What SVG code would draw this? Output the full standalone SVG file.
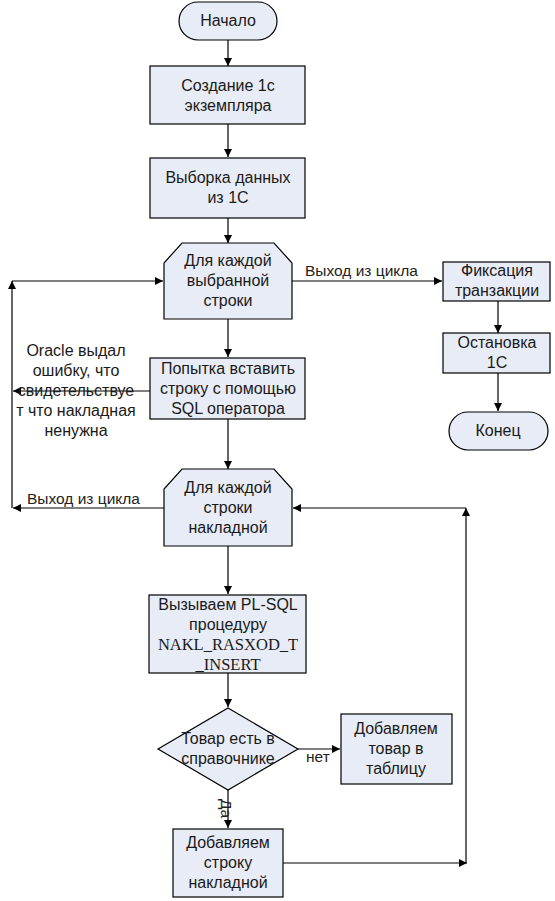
<svg xmlns="http://www.w3.org/2000/svg" width="555" height="901" viewBox="0 0 555 901">
<defs>
<marker id="ah" viewBox="0 0 10 10" refX="10" refY="5" markerWidth="8" markerHeight="8" markerUnits="userSpaceOnUse" orient="auto">
<path d="M0,0 L10,5 L0,10 z" fill="#000"/>
</marker>
<style>
.n{fill:#e8ecf6;stroke:#000;stroke-width:1.2}
.t{font-family:"Liberation Sans",Arial,sans-serif;font-size:16px;fill:#1a1a1a;text-anchor:middle}
.s{font-family:"Liberation Serif","Times New Roman",serif;font-size:16.5px;fill:#1a1a1a;text-anchor:middle}
.l{font-family:"Liberation Sans",Arial,sans-serif;font-size:15.5px;fill:#222}
.c{fill:none;stroke:#000;stroke-width:1.2}
</style>
</defs>
<rect width="555" height="901" fill="#fff"/>
<g id="connectors">
<line class="c" x1="228" y1="40" x2="228" y2="66" marker-end="url(#ah)"/>
<line class="c" x1="228" y1="124" x2="228" y2="157" marker-end="url(#ah)"/>
<line class="c" x1="228" y1="218" x2="228" y2="243" marker-end="url(#ah)"/>
<line class="c" x1="292" y1="281" x2="442" y2="281" marker-end="url(#ah)"/>
<line class="c" x1="498" y1="301" x2="498" y2="333" marker-end="url(#ah)"/>
<line class="c" x1="498" y1="373" x2="498" y2="411" marker-end="url(#ah)"/>
<line class="c" x1="228" y1="319" x2="228" y2="357" marker-end="url(#ah)"/>
<line class="c" x1="150" y1="391" x2="13" y2="391" marker-end="url(#ah)"/>
<line class="c" x1="228" y1="419" x2="228" y2="469" marker-end="url(#ah)"/>
<line class="c" x1="164" y1="508" x2="13" y2="508" marker-end="url(#ah)"/>
<line class="c" x1="12" y1="508" x2="12" y2="281" marker-end="url(#ah)"/>
<line class="c" x1="12" y1="281" x2="163" y2="281" marker-end="url(#ah)"/>
<line class="c" x1="228" y1="546" x2="228" y2="594" marker-end="url(#ah)"/>
<line class="c" x1="228" y1="673" x2="228" y2="707" marker-end="url(#ah)"/>
<line class="c" x1="298" y1="749" x2="340" y2="749" marker-end="url(#ah)"/>
<line class="c" x1="228" y1="790" x2="228" y2="828" marker-end="url(#ah)"/>
<line class="c" x1="283" y1="863" x2="467" y2="863" marker-end="url(#ah)"/>
<line class="c" x1="466" y1="863" x2="466" y2="508" marker-end="url(#ah)"/>
<line class="c" x1="466" y1="508" x2="293" y2="508" marker-end="url(#ah)"/>
<text class="l" x="305" y="276">Выход из цикла</text>
<text class="l" x="27" y="504">Выход из цикла</text>
<text class="l" x="306" y="762">нет</text>
<text class="l" transform="translate(221,799) rotate(90)">Да</text>
<text class="t" x="76" y="356">Oracle выдал</text>
<text class="t" x="76" y="376">ошибку, что</text>
<text class="t" x="76" y="396">свидетельствуе</text>
<text class="t" x="76" y="416">т что накладная</text>
<text class="t" x="76" y="436">ненужна</text>
</g>
<g id="start">
<rect class="n" x="179" y="2" width="98" height="38" rx="19"/>
<text class="t" x="228" y="26">Начало</text>
</g>
<g id="create">
<rect class="n" x="150" y="66" width="155" height="58"/>
<text class="t" x="228" y="91">Создание 1с</text>
<text class="t" x="228" y="111">экземпляра</text>
</g>
<g id="select">
<rect class="n" x="150" y="158" width="155" height="60"/>
<text class="t" x="228" y="183">Выборка данных</text>
<text class="t" x="228" y="203">из 1С</text>
</g>
<g id="loop1">
<path class="n" d="M182,243 L274,243 L292,263 L292,319 L164,319 L164,263 z"/>
<text class="t" x="228" y="266">Для каждой</text>
<text class="t" x="228" y="286">выбранной</text>
<text class="t" x="228" y="306">строки</text>
</g>
<g id="commit">
<rect class="n" x="443" y="262" width="107" height="39"/>
<text class="t" x="497" y="276">Фиксация</text>
<text class="t" x="497" y="296">транзакции</text>
</g>
<g id="stop1c">
<rect class="n" x="443" y="333" width="107" height="40"/>
<text class="t" x="497" y="348">Остановка</text>
<text class="t" x="497" y="368">1С</text>
</g>
<g id="end">
<rect class="n" x="449" y="412" width="99" height="38" rx="19"/>
<text class="t" x="498" y="436">Конец</text>
</g>
<g id="insert">
<rect class="n" x="150" y="358" width="155" height="61"/>
<text class="t" x="228" y="374">Попытка вставить</text>
<text class="t" x="228" y="394">строку с помощью</text>
<text class="t" x="228" y="414">SQL оператора</text>
</g>
<g id="loop2">
<path class="n" d="M182,469 L274,469 L292,489 L292,546 L164,546 L164,489 z"/>
<text class="t" x="228" y="493">Для каждой</text>
<text class="t" x="228" y="513">строки</text>
<text class="t" x="228" y="533">накладной</text>
</g>
<g id="call">
<rect class="n" x="149" y="595" width="157" height="78"/>
<text class="t" x="228" y="610">Вызываем PL-SQL</text>
<text class="t" x="228" y="630">процедуру</text>
<text class="s" x="228" y="650">NAKL_RASXOD_T</text>
<text class="s" x="228" y="670">_INSERT</text>
</g>
<g id="decision">
<path class="n" d="M228,708 L298,749 L228,790 L158,749 z"/>
<text class="t" x="228" y="744">Товар есть в</text>
<text class="t" x="228" y="764">справочнике</text>
</g>
<g id="addgoods">
<rect class="n" x="341" y="714" width="111" height="70"/>
<text class="t" x="396" y="734">Добавляем</text>
<text class="t" x="396" y="754">товар в</text>
<text class="t" x="396" y="774">таблицу</text>
</g>
<g id="addrow">
<rect class="n" x="173" y="829" width="110" height="68"/>
<text class="t" x="228" y="848">Добавляем</text>
<text class="t" x="228" y="868">строку</text>
<text class="t" x="228" y="888">накладной</text>
</g>
</svg>
